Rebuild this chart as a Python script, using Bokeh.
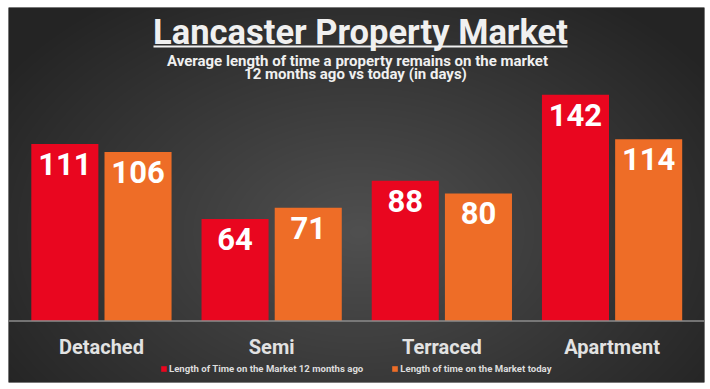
import numpy as np
from bokeh.plotting import figure
from bokeh.models import (ColumnDataSource, Range1d, FixedTicker, Span, Label,
                          BoxAnnotation, Legend, LegendItem)
from bokeh.transform import dodge
from bokeh.core.properties import value
from bokeh.embed import file_html
from bokeh.resources import INLINE

# ---- data ----
categories = ["Detached", "Semi", "Terraced", "Apartment"]
months_ago = [111, 64, 88, 142]
today = [106, 71, 80, 114]
series_names = ["Length of Time on the Market 12 months ago",
                "Length of time on the Market today"]
grid_ticks = [20, 40, 60, 80, 100, 120, 140, 160]
title_text = "Lancaster Property Market"
subtitle_1 = "Average length of time a property remains on the market"
subtitle_2 = "12 months ago vs today (in days)"

W, H = 710, 389
BL, BT, BR, BB = 8, 7, 6, 7
FW, FH = W - BL - BR, H - BT - BB
RED = "#e9061f"
ORANGE = "#ee6d27"
FONT = "Roboto"

xs = list(range(len(categories)))
src = ColumnDataSource(dict(x=xs, cat=categories, ago=months_ago, today=today,
                            ago_s=[str(v) for v in months_ago],
                            today_s=[str(v) for v in today]))

x0, x1 = -0.546, 3.543
y0, y1 = -38.6, 196.7

p = figure(width=W, height=H, output_backend="svg", toolbar_location=None,
           x_range=Range1d(x0, x1), y_range=Range1d(y0, y1),
           x_axis_location=None, y_axis_location=None,
           min_border_left=BL, min_border_top=BT, min_border_right=BR,
           min_border_bottom=BB)
p.outline_line_color = None
p.border_fill_color = "white"
p.background_fill_color = "#2a2a2a"

# radial background gradient (decoration)
yy, xx = np.mgrid[0:FH, 0:FW]
cx, cy = 350.0, 150.0   # rows go bottom -> top
t = np.sqrt(((xx - cx) / 430.0) ** 2 + ((yy - cy) / 290.0) ** 2)
t = np.clip(t, 0, 1)
inner, outer = 80, 36
g = (inner + (outer - inner) * t).astype(np.uint32)
img = (255 << 24) | (g << 16) | (g << 8) | g
p.image_rgba(image=[img.astype(np.uint32)], x=x0, y=y0, dw=x1 - x0, dh=y1 - y0)

p.ygrid.ticker = FixedTicker(ticks=grid_ticks)
p.ygrid.grid_line_color = "#ffffff"
p.ygrid.grid_line_alpha = 0.07
p.xgrid.visible = False

bw = 0.394
off = 0.215
r1 = p.vbar(x=dodge("x", -off, range=p.x_range), top="ago", width=bw, bottom=0,
            source=src, fill_color=RED, line_color=None)
r2 = p.vbar(x=dodge("x", off, range=p.x_range), top="today", width=bw, bottom=0,
            source=src, fill_color=ORANGE, line_color=None)

p.add_layout(Span(location=0, dimension="width", line_color="#8c8c8c",
                  line_width=1.5))

vfont = value(FONT)
for col, lab, dx in (("ago", "ago_s", -off), ("today", "today_s", off)):
    p.text(x=dodge("x", dx, range=p.x_range), y=col, text=lab, source=src,
           text_align="center", text_baseline="top", y_offset=9,
           text_font=vfont, text_font_style="bold", text_font_size="31px",
           text_color="white")

# category labels
p.text(x="x", y=-16.6, text="cat", source=src, text_align="center",
       text_baseline="middle", text_font=vfont, text_font_style="bold",
       text_font_size="20px", text_color="#e2e2e2")

# titles (screen units relative to the frame)
p.add_layout(Label(x=FW / 2 + 4, y=FH - 24.5, x_units="screen", y_units="screen",
                   text=title_text, text_align="center",
                   text_baseline="middle", text_font=FONT,
                   text_font_style="bold",
                   text_font_size="34.5px", text_color="#f0f0f0"))
p.add_layout(BoxAnnotation(left=145, right=559, top=FH - 38, bottom=FH - 40,
                           left_units="screen", right_units="screen",
                           top_units="screen", bottom_units="screen",
                           fill_color="#f0f0f0", fill_alpha=1, line_color=None))
p.add_layout(Label(x=FW / 2 + 1, y=FH - 53, x_units="screen", y_units="screen",
                   text=subtitle_1, text_align="center", text_baseline="middle",
                   text_font=FONT, text_font_style="bold",
                   text_font_size="15px", text_color="#f0f0f0"))
p.add_layout(Label(x=FW / 2 - 1, y=FH - 66, x_units="screen", y_units="screen",
                   text=subtitle_2, text_align="center", text_baseline="middle",
                   text_font=FONT, text_font_style="bold",
                   text_font_size="15px", text_color="#f0f0f0"))

legend = Legend(items=[LegendItem(label=series_names[0], renderers=[r1]),
                       LegendItem(label=series_names[1], renderers=[r2])],
                orientation="horizontal", location=(152, 8),
                glyph_width=7, glyph_height=7, label_standoff=2, spacing=28,
                padding=0, margin=0, label_height=10,
                label_text_font=FONT,
                label_text_font_style="bold",
                label_text_font_size="9.6px", label_text_color="#dddddd",
                background_fill_alpha=0, border_line_color=None)
p.add_layout(legend, "center")

open("out.html", "w").write(file_html(p, INLINE))
